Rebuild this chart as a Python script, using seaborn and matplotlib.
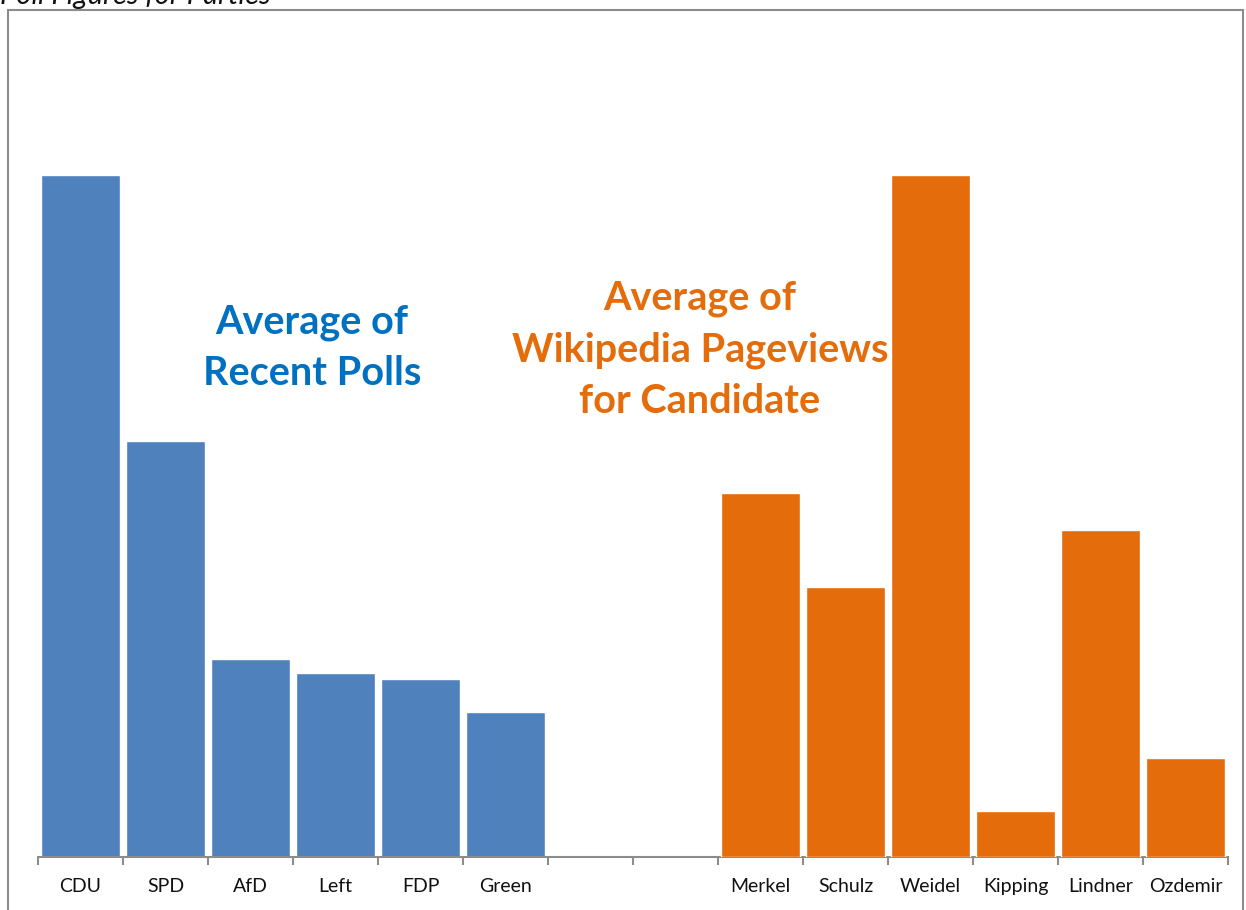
import matplotlib
matplotlib.use("Agg")
import matplotlib.pyplot as plt
import seaborn as sns
import pandas as pd
import numpy as np
from matplotlib.patches import Rectangle

# Data
parties = ["CDU", "SPD", "AfD", "Left", "FDP", "Green"]
poll_values = [37.5, 22.9, 10.9, 10.1, 9.8, 8.0]
candidates = ["Merkel", "Schulz", "Weidel", "Kipping", "Lindner", "Ozdemir"]
pageview_values = [53.4, 39.6, 100.0, 6.7, 47.9, 14.5]
gap_slots = [" ", "  "]
order = parties + gap_slots + candidates

sns.set_theme(style="white")
plt.rcParams['font.family'] = ['Lato', 'DejaVu Sans']

W, H = 1246, 910
fig = plt.figure(figsize=(W / 100, H / 100), dpi=100)

x0, x1 = 38, 1228
ybase, ytop = 857, 40
ax = fig.add_axes([x0 / W, (H - ybase) / H, (x1 - x0) / W, (ybase - ytop) / H])
ax2 = ax.twinx()

blue = "#4F81BD"
orange = "#E46C0A"

df_p = pd.DataFrame({"cat": parties, "val": poll_values})
df_c = pd.DataFrame({"cat": candidates, "val": pageview_values})

sns.barplot(data=df_p, x="cat", y="val", order=order, color=blue, saturation=1,
            width=0.94, ax=ax, errorbar=None)
sns.barplot(data=df_c, x="cat", y="val", order=order, color=orange, saturation=1,
            width=0.94, ax=ax2, errorbar=None)

frac = (ybase - ytop) / (ybase - 175)
ax.set_ylim(0, max(poll_values) * frac)
ax2.set_ylim(0, max(pageview_values) * frac)
ax.set_xlim(-0.5, len(order) - 0.5)

for a in (ax, ax2):
    for s in ["top", "left", "right"]:
        a.spines[s].set_visible(False)
    a.set_yticks([])
    a.set_ylabel("")
    a.set_xlabel("")
ax2.spines["bottom"].set_visible(False)
ax.spines["bottom"].set_color("#8C8C8C")
ax.spines["bottom"].set_linewidth(1.5)

ax.set_xticks(range(len(order)))
ax.set_xticklabels(order, fontsize=14, color="#111111")
ax.tick_params(axis="x", which="major", length=0, pad=15)
ax.set_xticks(np.arange(-0.5, len(order), 1.0), minor=True)
ax.tick_params(axis="x", which="minor", length=6, width=1.5, color="#8C8C8C",
               direction="out", bottom=True)

# annotations
fig.text(312 / W, 1 - 348 / H, "Average of\nRecent Polls", ha="center", va="center",
         color="#0070C0", fontsize=28.5, fontweight="bold", linespacing=1.46)
fig.text(700 / W, 1 - 350 / H, "Average of\nWikipedia Pageviews\nfor Candidate",
         ha="center", va="center", color=orange, fontsize=28.5, fontweight="bold",
         linespacing=1.46)

# chart frame
frame = Rectangle((8 / W, -0.05), (1243 - 8) / W, 1.05 - 10 / H, transform=fig.transFigure,
                  fill=False, edgecolor="#8C8C8C", linewidth=1.5, clip_on=False)
fig.patches.append(frame)

fig.text(0 / W, 1 - 4 / H, "Poll Figures for Parties", ha="left", va="baseline",
         fontsize=21, fontstyle="italic", color="#111111")

fig.savefig("out.png", dpi=100)
